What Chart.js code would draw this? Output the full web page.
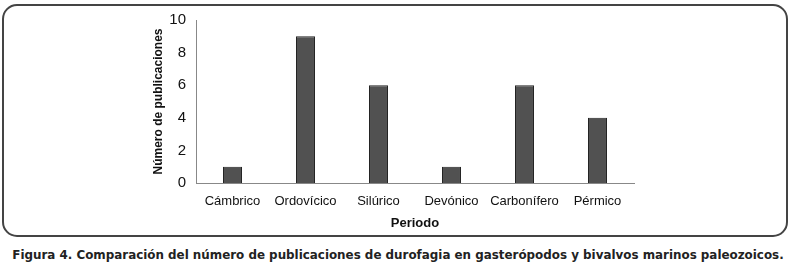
<!DOCTYPE html>
<html>
<head>
<meta charset="utf-8">
<script src="https://cdn.jsdelivr.net/npm/chart.js@4"></script>
<style>
    html, body { margin: 0; padding: 0; background: #fff; }
    body { width: 796px; height: 267px; position: relative; overflow: hidden; }
    #frame {
        position: absolute; left: 2px; top: 4px; width: 782px; height: 229px;
        border: 2px solid #444; border-radius: 15px;
    }
    #chartWrap { position: absolute; left: 0; top: 0; width: 796px; height: 240px; }
    #caption {
        position: absolute; left: 0; top: 248px; width: 796px; text-align: center;
        font-family: "DejaVu Sans", sans-serif; font-weight: bold; font-size: 11.9px; color: #222;
        white-space: nowrap;
    }
</style>
</head>
<body>
<div id="frame"></div>
<div id="chartWrap"><canvas id="chart"></canvas></div>
<div id="caption">Figura 4. Comparación del número de publicaciones de durofagia en gasterópodos y bivalvos marinos paleozoicos.</div>
<script>
const periods = ['Cámbrico', 'Ordovícico', 'Silúrico', 'Devónico', 'Carbonífero', 'Pérmico'];
const publications = [1, 9, 6, 1, 6, 4];
const yTicks = [0, 2, 4, 6, 8, 10];

const tickFont = { family: 'Liberation Sans', size: 13 };

new Chart(document.getElementById('chart'), {
    type: 'bar',
    data: {
        labels: periods,
        datasets: [{
            data: publications,
            backgroundColor: '#515151',
            borderColor: '#222',
            borderWidth: 1,
            barPercentage: 0.26,
            categoryPercentage: 1
        }]
    },
    options: {
        responsive: true,
        maintainAspectRatio: false,
        animation: false,
        layout: { padding: { left: 136, right: 162, top: 20, bottom: 7 } },
        plugins: { legend: { display: false }, tooltip: { enabled: false } },
        scales: {
            x: {
                grid: { display: false, drawTicks: false },
                border: { color: '#888' },
                ticks: { color: '#111', font: tickFont, padding: 11, maxRotation: 0 },
                title: {
                    display: true, text: 'Periodo', color: '#111',
                    font: { family: 'Liberation Sans', size: 13, weight: 'bold' },
                    padding: { top: 2, bottom: 2 }
                },
                afterFit: s => { s.height = 50; }
            },
            y: {
                min: 0, max: 10,
                afterBuildTicks: s => { s.ticks = yTicks.map(v => ({ value: v })); },
                grid: { display: false, drawOnChartArea: false, drawTicks: true, tickLength: 5, color: '#888' },
                border: { color: '#888' },
                ticks: { color: '#111', font: { family: 'Liberation Sans', size: 15 }, padding: 5 },
                title: {
                    display: true, text: 'Número de publicaciones', color: '#111',
                    font: { family: 'Liberation Sans', size: 12, weight: 'bold' },
                    padding: { top: 15, bottom: 0 }
                },
                afterFit: s => { s.width = 60; }
            }
        }
    }
});
</script>
</body>
</html>
